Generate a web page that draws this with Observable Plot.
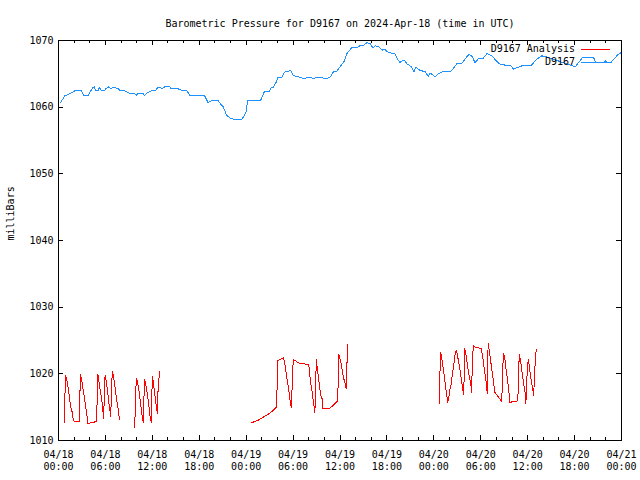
<!DOCTYPE html>
<html><head><meta charset="utf-8">
<script src="https://cdn.jsdelivr.net/npm/d3@7"></script>
<script src="https://cdn.jsdelivr.net/npm/@observablehq/plot@0.6"></script>
<style>html,body{margin:0;padding:0;background:#fff}#chart svg{display:block}</style>
</head><body><div id="chart"></div>
<script>
const chartTitle = "Barometric Pressure for D9167 on 2024-Apr-18 (time in UTC)";
const yAxisLabel = "milliBars";
const seriesNames = ["D9167 Analysis", "D9167"];
const seriesColors = ["#ff0000", "#1e90ff"];

const yTicks = [1010, 1020, 1030, 1040, 1050, 1060, 1070];
const xTickHours = [0, 6, 12, 18, 24, 30, 36, 42, 48, 54, 60, 66, 72];
const xTickLabels = ["04/18\n00:00","04/18\n06:00","04/18\n12:00","04/18\n18:00","04/19\n00:00","04/19\n06:00","04/19\n12:00","04/19\n18:00","04/20\n00:00","04/20\n06:00","04/20\n12:00","04/20\n18:00","04/21\n00:00"];

// D9167 observed pressure (hours since 2024-04-18 00:00 UTC, mb)
const pressureHours = [0.26,0.8,1.45,2.1,2.95,3.24,3.8,4.35,4.56,4.78,5.07,5.2,5.5,5.85,6.05,6.44,6.7,7.07,7.67,7.85,8.5,8.9,9.76,9.95,10.1,10.83,11.0,11.34,11.9,12.4,12.7,12.95,13.2,13.6,14.23,14.35,15.3,15.5,16.45,16.8,18.7,19.14,19.57,20.4,20.76,21.06,21.5,21.9,22.55,23.4,23.75,23.96,24.2,25.83,26.35,27.0,27.24,27.5,27.9,28.05,28.6,28.9,29.45,29.7,30.0,30.4,30.95,31.3,32.0,32.6,33.05,33.7,34.36,34.8,35.1,35.6,35.98,36.5,36.9,37.47,38.2,38.5,38.9,39.4,39.85,40.2,40.55,40.96,41.4,41.7,42.03,42.7,43.0,43.3,43.65,44.2,44.6,45.1,45.45,45.7,46.2,46.9,47.3,47.5,48.2,48.55,49.07,50.1,50.55,51.0,51.6,51.97,52.5,52.9,53.25,53.75,54.3,54.8,55.45,55.9,56.5,57.2,57.8,58.2,58.8,59.5,60.5,61.0,61.8,62.5,63.5,64.5,65.5,66.1,66.97,68.45,68.7,69.8,69.95,70.1,70.6,71.6,72.0];
const pressureValues = [1060.65,1061.7,1062.0,1062.45,1062.45,1061.75,1061.75,1062.9,1063.05,1062.45,1062.45,1063.0,1062.45,1062.45,1062.75,1063.05,1062.75,1063.0,1062.75,1062.45,1062.45,1062.15,1062.0,1061.75,1062.0,1062.0,1061.75,1062.15,1062.45,1062.45,1063.0,1063.0,1062.75,1063.05,1063.05,1062.75,1062.75,1062.6,1062.45,1061.7,1061.7,1060.65,1061.0,1061.0,1060.45,1060.05,1058.8,1058.4,1058.15,1058.1,1058.7,1059.2,1060.95,1060.95,1062.4,1062.4,1063.0,1063.0,1063.9,1064.5,1064.5,1065.25,1065.4,1065.55,1064.8,1064.6,1064.5,1064.25,1064.5,1064.3,1064.5,1064.4,1064.3,1064.6,1065.25,1065.4,1066.0,1066.8,1068.05,1068.9,1068.9,1069.2,1069.2,1069.65,1069.6,1068.9,1069.2,1069.05,1068.55,1068.7,1068.3,1068.05,1068.1,1067.3,1066.7,1067.1,1066.45,1066.1,1065.3,1066.0,1065.55,1065.3,1064.6,1065.15,1064.55,1065.0,1065.3,1065.3,1065.9,1066.6,1066.6,1067.2,1067.95,1067.6,1066.7,1067.3,1067.3,1068.05,1067.7,1067.05,1066.4,1066.3,1066.3,1065.7,1066.0,1066.3,1066.3,1067.05,1067.7,1067.5,1067.1,1066.7,1066.3,1066.05,1067.4,1067.4,1066.65,1066.65,1067.05,1066.65,1066.65,1067.95,1068.2];

// D9167 analysis (null = gap in the record)
const analysisHours = [0.81,0.81,0.9,1.02,1.15,1.28,1.45,1.57,1.75,1.88,2.01,2.65,2.72,2.81,2.94,3.07,3.24,3.36,3.49,3.62,3.75,4.0,4.86,4.95,5.03,5.15,5.28,5.41,5.54,5.67,5.79,5.88,5.97,6.1,6.23,6.36,6.48,6.61,6.69,6.78,6.91,7.03,7.2,7.33,7.51,7.67,7.8,
 null,
 9.76,9.85,10.01,10.14,10.32,10.45,10.58,10.7,10.83,10.96,11.04,11.17,11.34,11.47,11.6,11.73,11.86,11.93,12.02,12.15,12.28,12.41,12.53,12.66,12.75,12.96,
 null,
 24.68,25.19,25.62,26.05,26.47,26.9,27.33,27.66,27.88,27.97,28.05,28.3,28.61,28.74,28.9,29.03,29.16,29.33,29.45,29.58,29.71,29.8,29.89,30.02,30.31,30.53,30.95,31.37,32.01,32.14,32.27,32.45,32.57,32.7,32.78,32.87,32.96,33.03,33.16,33.29,33.42,33.55,33.72,33.8,34.57,35.0,35.43,35.72,35.77,35.85,35.98,36.1,36.23,36.36,36.49,36.67,36.79,36.87,37.0,
 null,
 48.76,48.76,48.89,48.98,49.11,49.24,49.36,49.49,49.62,49.79,49.91,50.04,50.22,50.35,50.48,50.61,50.73,50.86,50.99,51.12,51.25,51.37,51.5,51.63,51.76,51.83,51.88,51.96,52.09,52.22,52.34,52.47,52.6,52.73,52.82,52.91,53.04,53.33,53.75,54.06,54.19,54.31,54.44,54.57,54.7,54.83,54.86,54.95,55.03,55.16,55.29,55.41,55.54,55.67,55.8,55.93,56.1,56.27,56.44,56.65,56.74,56.82,56.95,57.08,57.2,57.33,57.46,57.59,57.72,58.02,58.57,58.74,58.83,58.92,59.05,59.17,59.3,59.43,59.56,59.69,59.76,59.85,59.94,60.07,60.15,60.27,60.4,60.53,60.66,60.75,60.84,60.96,61.09];
const analysisValues = [1012.75,1016.25,1019.75,1019.25,1018.5,1017.5,1016.0,1015.0,1014.25,1013.25,1012.9,1012.85,1016.25,1019.9,1019.25,1018.25,1017.0,1016.0,1015.0,1013.9,1012.6,1012.6,1012.85,1016.25,1019.9,1019.1,1018.0,1017.0,1016.1,1014.5,1013.25,1019.1,1019.75,1018.9,1017.75,1016.5,1015.25,1014.25,1013.6,1018.5,1020.4,1019.6,1018.25,1017.0,1015.6,1014.4,1013.1,
 null,
 1012.0,1017.5,1019.25,1018.5,1017.25,1016.0,1014.75,1013.6,1012.75,1017.5,1019.1,1018.25,1017.1,1016.0,1014.75,1013.5,1012.75,1016.75,1019.6,1018.6,1017.25,1016.0,1015.0,1014.0,1018.5,1020.35,
 null,
 1012.65,1012.9,1013.1,1013.4,1013.7,1014.0,1014.4,1014.8,1015.0,1018.6,1022.0,1022.15,1022.35,1022.4,1021.9,1020.75,1019.75,1018.5,1017.5,1016.25,1015.25,1015.0,1018.6,1022.15,1022.0,1021.75,1021.5,1021.5,1021.35,1019.75,1018.5,1017.25,1016.0,1015.0,1014.25,1016.75,1022.1,1021.5,1020.25,1019.0,1017.75,1016.75,1016.25,1014.75,1014.75,1015.15,1015.6,1016.0,1019.4,1022.9,1022.4,1021.75,1021.0,1020.0,1019.25,1018.5,1017.75,1021.0,1024.4,
 null,
 1015.6,1019.5,1023.15,1022.6,1021.6,1020.5,1019.4,1018.25,1017.1,1015.7,1016.5,1017.5,1018.5,1019.75,1020.75,1021.9,1023.0,1023.5,1023.0,1022.1,1021.25,1020.4,1019.4,1018.25,1017.25,1016.85,1020.25,1023.75,1023.0,1022.0,1021.0,1020.0,1019.25,1018.5,1017.25,1020.6,1024.2,1024.0,1023.9,1023.75,1023.0,1022.0,1020.9,1019.75,1018.75,1017.1,1020.75,1024.5,1023.9,1022.9,1021.75,1020.75,1019.6,1018.5,1017.25,1017.0,1016.75,1016.5,1016.25,1015.9,1017.6,1021.25,1023.0,1022.25,1021.0,1019.9,1018.75,1017.5,1015.7,1015.8,1015.9,1016.0,1019.5,1022.9,1022.25,1021.25,1020.0,1019.0,1018.0,1017.0,1015.5,1017.25,1020.5,1022.1,1021.6,1020.6,1019.5,1018.5,1017.6,1016.75,1018.5,1021.75,1023.65];

const W = 640, H = 480, mL = 58, mR = 19, mT = 40, mB = 40;
const frameW = W - mL - mR, frameH = H - mT - mB;
const font = "'DejaVu Sans Mono', 'Liberation Mono', monospace";

const pressure = pressureHours.map((h, i) => ({h, v: pressureValues[i]}));
const analysis = analysisHours.map((h, i) => ({h, v: analysisValues[i]}));
const minorTicks = d3.range(0, 73, 2);
const majorLen = 5, minorLen = 3, yTickLen = 5;

const chart = Plot.plot({
  width: W, height: H,
  marginLeft: mL, marginRight: mR, marginTop: mT, marginBottom: mB,
  style: {fontFamily: font, fontSize: "10px", background: "#fff", color: "#000"},
  x: {type: "linear", domain: [0, 72]},
  y: {type: "linear", domain: [1010, 1070]},
  marks: [
    Plot.line(pressure, {x: "h", y: "v", stroke: seriesColors[1], strokeWidth: 1, shapeRendering: "crispEdges"}),
    Plot.line(analysis, {x: "h", y: "v", stroke: seriesColors[0], strokeWidth: 1, shapeRendering: "crispEdges"}),
    Plot.tickX(minorTicks, {x: d => d, insetTop: frameH - minorLen, stroke: "#000", shapeRendering: "crispEdges"}),
    Plot.tickX(minorTicks, {x: d => d, insetBottom: frameH - minorLen, stroke: "#000", shapeRendering: "crispEdges"}),
    Plot.tickX(xTickHours, {x: d => d, insetTop: frameH - majorLen, stroke: "#000", shapeRendering: "crispEdges"}),
    Plot.tickX(xTickHours, {x: d => d, insetBottom: frameH - majorLen, stroke: "#000", shapeRendering: "crispEdges"}),
    Plot.tickY(yTicks, {y: d => d, insetRight: frameW - yTickLen, stroke: "#000", shapeRendering: "crispEdges"}),
    Plot.tickY(yTicks, {y: d => d, insetLeft: frameW - yTickLen, stroke: "#000", shapeRendering: "crispEdges"}),
    Plot.axisX({ticks: xTickHours, tickFormat: d => xTickLabels[xTickHours.indexOf(d)], tickSize: 0, tickPadding: 9, lineHeight: 1.2, label: null, fill: "#000"}),
    Plot.axisY({ticks: yTicks, tickFormat: d => String(d), tickSize: 0, tickPadding: 5, label: null, fill: "#000"}),
    Plot.frame({stroke: "#000", shapeRendering: "crispEdges"}),
    Plot.text([chartTitle], {frameAnchor: "top", dy: -21, fill: "#000"}),
    Plot.text([yAxisLabel], {frameAnchor: "left", rotate: -90, dx: -48, fill: "#000"})
  ]
});

// legend inside top-right of the frame, gnuplot style
const svg = d3.select(chart);
const legend = svg.append("g").attr("font-family", font).attr("font-size", 10);
seriesNames.forEach((name, i) => {
  const yy = mT + 9 + i * 13;
  const xr = W - mR - 46;
  legend.append("text").attr("x", xr).attr("y", yy).attr("dy", "0.32em")
    .attr("text-anchor", "end").style("fill", "#000").text(name);
  legend.append("rect").attr("x", xr + 6).attr("y", yy).attr("width", 29).attr("height", 1)
    .style("fill", seriesColors[i]).style("stroke", "none");
});

document.getElementById("chart").appendChild(chart);
</script>
</body></html>
